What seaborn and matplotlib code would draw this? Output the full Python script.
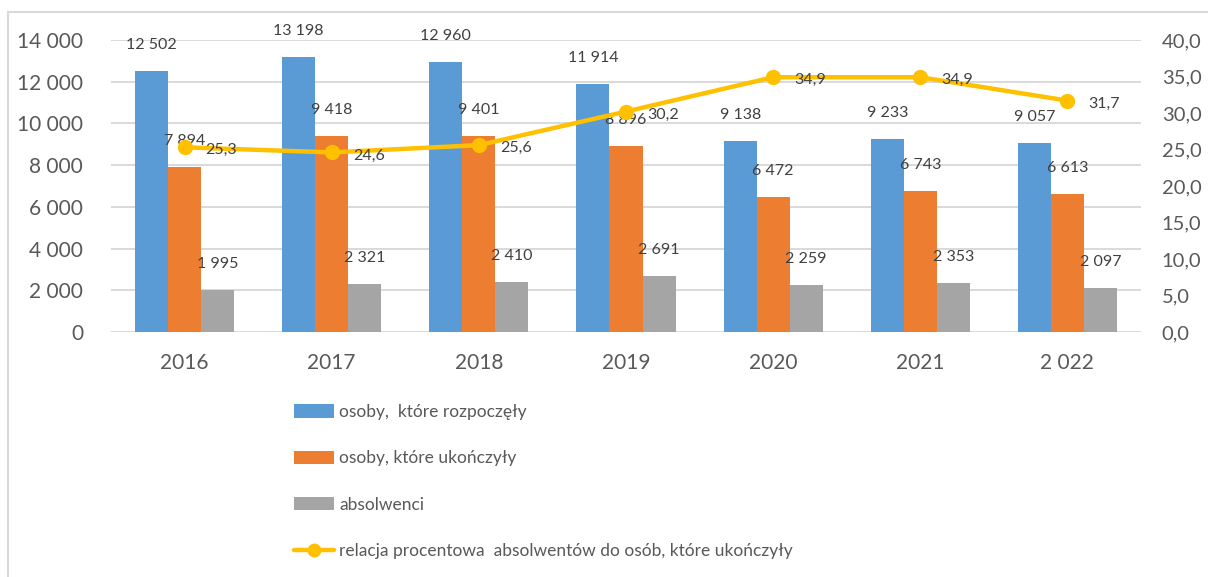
import numpy as np
import pandas as pd
import seaborn as sns
import matplotlib
matplotlib.use("Agg")
import matplotlib.pyplot as plt
from matplotlib.patches import Patch, Rectangle
from matplotlib.lines import Line2D

# data
years = ["2016", "2017", "2018", "2019", "2020", "2021", "2 022"]
started = [12502, 13198, 12960, 11914, 9138, 9233, 9057]
finished = [7894, 9418, 9401, 8896, 6472, 6743, 6613]
graduates = [1995, 2321, 2410, 2691, 2259, 2353, 2097]
pct = [25.3, 24.6, 25.6, 30.2, 34.9, 34.9, 31.7]

series_names = ["osoby,  które rozpoczęły", "osoby, które ukończyły", "absolwenci"]
line_name = "relacja procentowa  absolwentów do osób, które ukończyły"
colors = ["#5B9BD5", "#ED7D31", "#A5A5A5"]
line_color = "#FFC000"
text_col = "#595959"
label_col = "#404040"
grid_col = "#D9D9D9"

sns.set_theme(style="white")
plt.rcParams['font.family'] = ['Lato', 'DejaVu Sans']

df = pd.DataFrame({
    "rok": years * 3,
    "wartosc": started + finished + graduates,
    "seria": [series_names[0]] * 7 + [series_names[1]] * 7 + [series_names[2]] * 7,
})

fig = plt.figure(figsize=(12.08, 5.77), dpi=100)
ax = fig.add_axes([111 / 1208, 1 - 332 / 577, 1030 / 1208, 292 / 577])

sns.barplot(data=df, x="rok", y="wartosc", hue="seria", palette=colors,
            width=0.673, gap=0, saturation=1, linewidth=0, edgecolor="none",
            ax=ax, legend=False)

ax.set_xlim(-0.5, 6.5)
ax.set_ylim(0, 14000)
ax.set_yticks(np.arange(0, 14001, 2000))
ax.set_yticklabels([f"{v:,}".replace(",", " ") for v in range(0, 14001, 2000)])
ax.yaxis.grid(True, color=grid_col, linewidth=1.4)
ax.set_axisbelow(True)
for s in ax.spines.values():
    s.set_visible(False)
ax.set_xlabel("")
ax.set_ylabel("")
ax.tick_params(axis="both", length=0, labelsize=15, colors=text_col)
ax.tick_params(axis="x", pad=15)
ax.tick_params(axis="y", pad=20)

# bar value labels
for cont in ax.containers:
    for bar in cont:
        h = bar.get_height()
        ax.annotate(f"{int(round(h)):,}".replace(",", " "),
                    (bar.get_x() + bar.get_width() / 2, h),
                    xytext=(0, 26), textcoords="offset pixels",
                    ha="center", va="center", fontsize=11.5, color=label_col)

# percentage line on secondary axis
ax2 = ax.twinx()
sns.lineplot(x=np.arange(len(years)), y=pct, ax=ax2, color=line_color,
             linewidth=3.2, marker="o", markersize=11, markeredgewidth=0)
ax2.set_ylim(0, 40)
ax2.set_yticks(np.arange(0, 40.1, 5))
ax2.set_yticklabels([f"{v:.1f}".replace(".", ",") for v in np.arange(0, 40.1, 5)])
ax2.tick_params(axis="y", length=0, labelsize=14.5, colors=text_col, pad=15)
for s in ax2.spines.values():
    s.set_visible(False)
ax2.set_ylabel("")
for i, v in enumerate(pct):
    ax2.annotate(f"{v:.1f}".replace(".", ","), (i, v), xytext=(21, -3),
                 textcoords="offset pixels", ha="left", va="center",
                 fontsize=11.5, color=label_col)

# legend below the plot
handles = [Patch(facecolor=c, edgecolor="none") for c in colors]
handles.append(Line2D([], [], color=line_color, linewidth=3.2, marker="o",
                      markersize=10, markeredgewidth=0))
leg = fig.legend(handles, series_names + [line_name], loc="upper left",
                 bbox_to_anchor=(294 / 1208, 1 - 404 / 577), frameon=False,
                 fontsize=12.5, labelcolor=text_col, handlelength=2.3,
                 handleheight=0.8, handletextpad=0.3, labelspacing=1.75,
                 borderpad=0, borderaxespad=0)

# light frame around the chart
fig.patches.append(Rectangle((8 / 1208, -0.02), 1.1, 1 - 12 / 577 + 0.02,
                             transform=fig.transFigure, fill=False,
                             edgecolor=grid_col, linewidth=1.5))

fig.savefig("out.png", dpi=100)
